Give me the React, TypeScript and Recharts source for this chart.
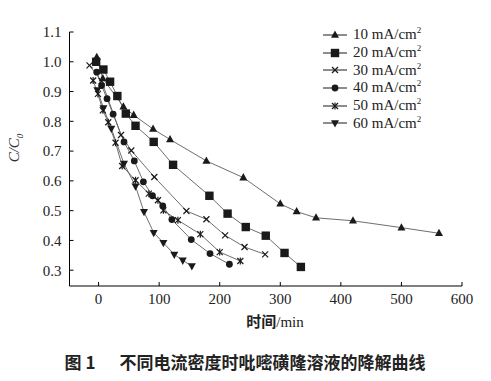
import React from 'react';
import { LineChart, Line, XAxis, YAxis } from 'recharts';

const t10 = [-3, 7, 41, 58, 90, 118, 178, 239, 300, 327, 359, 420, 500, 562];
const c10 = [1.015, 0.944, 0.849, 0.821, 0.774, 0.739, 0.667, 0.611, 0.523, 0.497, 0.476, 0.466, 0.443, 0.424];
const t20 = [-4, 8, 19, 31, 45, 61, 91, 123, 183, 213, 243, 276, 307, 334];
const c20 = [1.0, 0.974, 0.933, 0.885, 0.826, 0.785, 0.731, 0.654, 0.55, 0.49, 0.445, 0.416, 0.358, 0.311];
const t30 = [-15, 5, 37, 54, 92, 145, 178, 209, 241, 275];
const c30 = [0.988, 0.935, 0.754, 0.702, 0.613, 0.499, 0.471, 0.417, 0.378, 0.353];
const t40 = [-3, 5, 14, 24, 42, 59, 74, 89, 106, 121, 153, 184, 216];
const c40 = [0.965, 0.92, 0.876, 0.824, 0.731, 0.667, 0.597, 0.55, 0.516, 0.47, 0.403, 0.356, 0.32];
const t50 = [-9, -1, 7, 16, 28, 39, 61, 83, 98, 107, 131, 168, 200, 234];
const c50 = [0.937, 0.892, 0.837, 0.797, 0.728, 0.65, 0.602, 0.557, 0.535, 0.501, 0.468, 0.421, 0.361, 0.331];
const t60 = [-2, 8, 21, 42, 61, 75, 91, 107, 125, 139, 154];
const c60 = [0.905, 0.845, 0.776, 0.658, 0.582, 0.496, 0.426, 0.392, 0.353, 0.333, 0.314];

const xTicks = [0, 100, 200, 300, 400, 500, 600];
const yTicks = [0.3, 0.4, 0.5, 0.6, 0.7, 0.8, 0.9, 1.0, 1.1];
const seriesNames = ['10', '20', '30', '40', '50', '60'];

const zip = (t: number[], c: number[]) => t.map((x, i) => ({ x, y: c[i] }));

const MARK = '#1a1a1a';
const LINE = '#5e5e5e';
const SERIF = '"Liberation Serif", "Times New Roman", serif';
const CJK = '"Noto Sans CJK SC", sans-serif';

type Kind = 'tri' | 'sq' | 'x' | 'dot' | 'xbar' | 'inv';
const kinds: Kind[] = ['tri', 'sq', 'x', 'dot', 'xbar', 'inv'];

function Marker({ kind, cx, cy }: { kind: Kind; cx: number; cy: number }) {
  switch (kind) {
    case 'tri':
      return <polygon points={`${cx},${cy - 4.5} ${cx - 4},${cy + 2.8} ${cx + 4},${cy + 2.8}`} fill={MARK} />;
    case 'sq':
      return <rect x={cx - 4.2} y={cy - 4.2} width={8.4} height={8.4} fill={MARK} />;
    case 'x':
      return (
        <g stroke={MARK} strokeWidth={1.2}>
          <line x1={cx - 3} y1={cy - 3} x2={cx + 3} y2={cy + 3} />
          <line x1={cx - 3} y1={cy + 3} x2={cx + 3} y2={cy - 3} />
        </g>
      );
    case 'dot':
      return <circle cx={cx} cy={cy} r={3.4} fill={MARK} />;
    case 'xbar':
      return (
        <g stroke={MARK} strokeWidth={1.2}>
          <line x1={cx - 3} y1={cy - 3} x2={cx + 3} y2={cy + 3} />
          <line x1={cx - 3} y1={cy + 3} x2={cx + 3} y2={cy - 3} />
          <line x1={cx} y1={cy - 3.5} x2={cx} y2={cy + 3.5} />
        </g>
      );
    case 'inv':
      return <polygon points={`${cx},${cy + 4.5} ${cx - 4},${cy - 2.8} ${cx + 4},${cy - 2.8}`} fill={MARK} />;
  }
  return null;
}

const makeDot = (kind: Kind) => (props: any) => {
  const { cx, cy, index } = props;
  if (cx == null || cy == null) return <g key={index} />;
  return <Marker key={index} kind={kind} cx={cx} cy={cy} />;
};

const datasets = [zip(t10, c10), zip(t20, c20), zip(t30, c30), zip(t40, c40), zip(t50, c50), zip(t60, c60)];

function LegendBox() {
  return (
    <div style={{ position: 'absolute', left: 322, top: 26, fontFamily: SERIF, fontSize: 15, color: '#222' }}>
      {seriesNames.map((n, i) => (
        <div key={n} style={{ display: 'flex', alignItems: 'center', height: 17.7 }}>
          <svg width={26} height={12} style={{ marginRight: 5 }}>
            <line x1={1} y1={6} x2={25} y2={6} stroke={MARK} strokeWidth={1} />
            <Marker kind={kinds[i]} cx={13} cy={6} />
          </svg>
          <span>
            {n} mA/cm<sup style={{ fontSize: 9, verticalAlign: 'top', position: 'relative', top: -1 }}>2</sup>
          </span>
        </div>
      ))}
    </div>
  );
}

export default function App() {
  return (
    <div style={{ position: 'absolute', left: 0, top: 0, width: 491, height: 381, background: '#fff' }}>
      <LineChart width={491} height={381} margin={{ top: 32, right: 29, left: 0, bottom: 65 }}>
        <XAxis
          type="number"
          dataKey="x"
          domain={[-48, 600]}
          ticks={xTicks}
          allowDataOverflow
          height={30}
          axisLine={{ stroke: '#000', strokeWidth: 1 }}
          tickLine={{ stroke: '#000', strokeWidth: 1 }}
          tickSize={-4}
          tickMargin={11}
          tick={{ fill: '#222', fontSize: 15, fontFamily: SERIF }}
        />
        <YAxis
          type="number"
          dataKey="y"
          domain={[0.247, 1.1]}
          ticks={yTicks}
          allowDataOverflow
          width={69.5}
          axisLine={{ stroke: '#000', strokeWidth: 1 }}
          tickLine={{ stroke: '#000', strokeWidth: 1 }}
          tickSize={-4}
          tickMargin={12}
          tickFormatter={(v: number) => v.toFixed(1)}
          tick={{ fill: '#222', fontSize: 15, fontFamily: SERIF }}
        />
        {datasets.map((d, i) => (
          <Line
            key={seriesNames[i]}
            data={d}
            dataKey="y"
            name={`${seriesNames[i]} mA/cm2`}
            stroke={LINE}
            strokeWidth={0.9}
            dot={makeDot(kinds[i])}
            activeDot={false}
            isAnimationActive={false}
          />
        ))}
      </LineChart>
      <LegendBox />
      <div
        style={{
          position: 'absolute',
          left: 15,
          top: 148,
          transform: 'translate(-50%, -50%) rotate(-90deg)',
          fontFamily: SERIF,
          fontStyle: 'italic',
          fontSize: 15,
          color: '#333',
          whiteSpace: 'nowrap',
        }}
      >
        C/C<sub style={{ fontSize: 9 }}>0</sub>
      </div>
      <div
        style={{
          position: 'absolute',
          left: 275,
          top: 320,
          transform: 'translate(-50%, -50%)',
          fontSize: 15,
          color: '#222',
          whiteSpace: 'nowrap',
        }}
      >
        <span style={{ fontFamily: CJK, fontWeight: 700 }}>时间</span>
        <span style={{ fontFamily: SERIF }}>/min</span>
      </div>
      <div
        style={{
          position: 'absolute',
          left: 245,
          top: 361,
          transform: 'translate(-50%, -50%)',
          fontFamily: CJK,
          fontWeight: 700,
          fontSize: 17,
          color: '#222',
          whiteSpace: 'nowrap',
        }}
      >
        图 1<span style={{ display: 'inline-block', width: 24 }} />不同电流密度时吡嘧磺隆溶液的降解曲线
      </div>
    </div>
  );
}
